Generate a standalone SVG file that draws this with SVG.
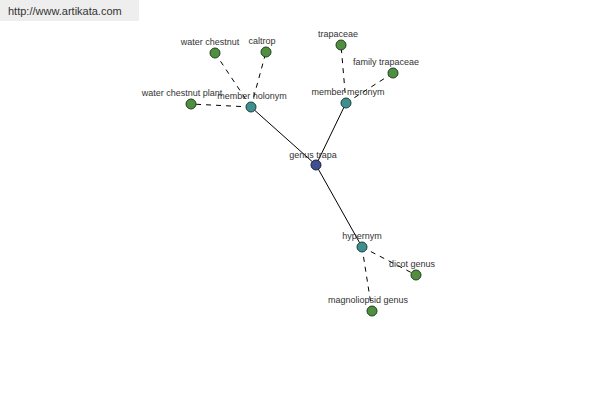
<svg xmlns="http://www.w3.org/2000/svg" width="600" height="400" viewBox="0 0 600 400">
<style>
text{font-family:"Liberation Sans",Arial,sans-serif;font-size:9px;fill:#333;text-anchor:middle}
.solid{stroke:#000;stroke-width:1;fill:none}
.dash{stroke:#000;stroke-width:1;fill:none;stroke-dasharray:5,5}
.leaf{fill:#4f8f3f;stroke:#1f3f1f;stroke-width:1}
.rel{fill:#3f8f8f;stroke:#1f3f3f;stroke-width:1}
.root{fill:#3f4f8f;stroke:#1f1f3f;stroke-width:1}
</style>
<rect width="600" height="400" fill="#fff"/>
<g id="watermark">
<rect x="0" y="0" width="139" height="21" fill="#eeeeee"/>
<text x="8" y="15" style="text-anchor:start;font-size:11px;fill:#333">http://www.artikata.com</text>
</g>
<g id="connectors">
<line class="solid" x1="316" y1="165" x2="251" y2="107"/>
<line class="solid" x1="316" y1="165" x2="346" y2="103"/>
<line class="solid" x1="316" y1="165" x2="362" y2="247"/>
<line class="dash" x1="251" y1="107" x2="215" y2="53"/>
<line class="dash" x1="251" y1="107" x2="266" y2="52"/>
<line class="dash" x1="251" y1="107" x2="191" y2="104"/>
<line class="dash" x1="346" y1="103" x2="341" y2="45"/>
<line class="dash" x1="346" y1="103" x2="393" y2="73"/>
<line class="dash" x1="362" y1="247" x2="416" y2="275"/>
<line class="dash" x1="362" y1="247" x2="372" y2="311"/>
</g>
<g id="genus-trapa"><circle class="root" cx="316" cy="165" r="5"/><text x="313" y="158">genus trapa</text></g>
<g id="member-holonym"><circle class="rel" cx="251" cy="107" r="5"/><text x="252" y="99">member holonym</text></g>
<g id="member-meronym"><circle class="rel" cx="346" cy="103" r="5"/><text x="348" y="95">member meronym</text></g>
<g id="hypernym"><circle class="rel" cx="362" cy="247" r="5"/><text x="362" y="239">hypernym</text></g>
<g id="water-chestnut"><circle class="leaf" cx="215" cy="53" r="5"/><text x="210" y="45">water chestnut</text></g>
<g id="caltrop"><circle class="leaf" cx="266" cy="52" r="5"/><text x="262" y="44">caltrop</text></g>
<g id="water-chestnut-plant"><circle class="leaf" cx="191" cy="104" r="5"/><text x="182" y="96">water chestnut plant</text></g>
<g id="trapaceae"><circle class="leaf" cx="341" cy="45" r="5"/><text x="338" y="37">trapaceae</text></g>
<g id="family-trapaceae"><circle class="leaf" cx="393" cy="73" r="5"/><text x="386" y="65">family trapaceae</text></g>
<g id="dicot-genus"><circle class="leaf" cx="416" cy="275" r="5"/><text x="412" y="267">dicot genus</text></g>
<g id="magnoliopsid-genus"><circle class="leaf" cx="372" cy="311" r="5"/><text x="368" y="303">magnoliopsid genus</text></g>
</svg>
